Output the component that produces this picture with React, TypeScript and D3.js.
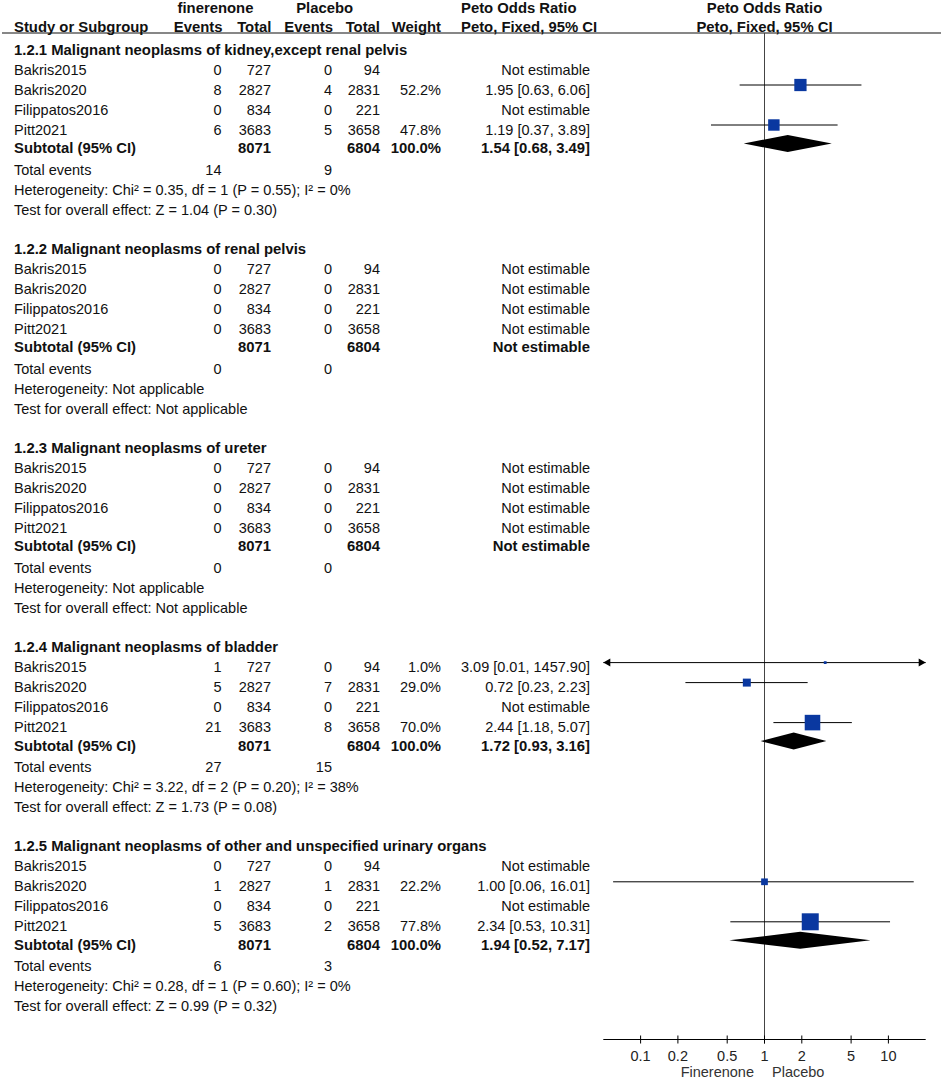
import React from "react";
import * as d3 from "d3";

// ---------- data ----------
const sectionTitles = [
  "1.2.1 Malignant neoplasms of kidney,except renal pelvis",
  "1.2.2 Malignant neoplasms of renal pelvis",
  "1.2.3 Malignant neoplasms of ureter",
  "1.2.4 Malignant neoplasms of bladder",
  "1.2.5 Malignant neoplasms of other and unspecified urinary organs",
];
const studyNames = ["Bakris2015", "Bakris2020", "Filippatos2016", "Pitt2021"];
const finTotals = [727, 2827, 834, 3683];
const plaTotals = [94, 2831, 221, 3658];
const finSubtotal = 8071;
const plaSubtotal = 6804;

const finEvents = [
  [0, 8, 0, 6],
  [0, 0, 0, 0],
  [0, 0, 0, 0],
  [1, 5, 0, 21],
  [0, 1, 0, 5],
];
const plaEvents = [
  [0, 4, 0, 5],
  [0, 0, 0, 0],
  [0, 0, 0, 0],
  [0, 7, 0, 8],
  [0, 1, 0, 2],
];
const weights: (number | null)[][] = [
  [null, 52.2, null, 47.8],
  [null, null, null, null],
  [null, null, null, null],
  [1.0, 29.0, null, 70.0],
  [null, 22.2, null, 77.8],
];
const orEst: (number | null)[][] = [
  [null, 1.95, null, 1.19],
  [null, null, null, null],
  [null, null, null, null],
  [3.09, 0.72, null, 2.44],
  [null, 1.0, null, 2.34],
];
const orLo: (number | null)[][] = [
  [null, 0.63, null, 0.37],
  [null, null, null, null],
  [null, null, null, null],
  [0.01, 0.23, null, 1.18],
  [null, 0.06, null, 0.53],
];
const orHi: (number | null)[][] = [
  [null, 6.06, null, 3.89],
  [null, null, null, null],
  [null, null, null, null],
  [1457.9, 2.23, null, 5.07],
  [null, 16.01, null, 10.31],
];
const subEst: (number | null)[] = [1.54, null, null, 1.72, 1.94];
const subLo: (number | null)[] = [0.68, null, null, 0.93, 0.52];
const subHi: (number | null)[] = [3.49, null, null, 3.16, 7.17];
const finTotalEvents = [14, 0, 0, 27, 6];
const plaTotalEvents = [9, 0, 0, 15, 3];
const hetTexts = [
  "Heterogeneity: Chi² = 0.35, df = 1 (P = 0.55); I² = 0%",
  "Heterogeneity: Not applicable",
  "Heterogeneity: Not applicable",
  "Heterogeneity: Chi² = 3.22, df = 2 (P = 0.20); I² = 38%",
  "Heterogeneity: Chi² = 0.28, df = 1 (P = 0.60); I² = 0%",
];
const testTexts = [
  "Test for overall effect: Z = 1.04 (P = 0.30)",
  "Test for overall effect: Not applicable",
  "Test for overall effect: Not applicable",
  "Test for overall effect: Z = 1.73 (P = 0.08)",
  "Test for overall effect: Z = 0.99 (P = 0.32)",
];
const tickValues = [0.1, 0.2, 0.5, 1, 2, 5, 10];
const tickLabels = ["0.1", "0.2", "0.5", "1", "2", "5", "10"];
const axisDomain = [0.05, 20];

// ---------- layout ----------
const W = 941;
const H = 1080;
const FONT = "'Liberation Sans', Arial, Helvetica, sans-serif";
const FS = 14.5;
const FSB = 14.85;
const TXT = "#111";
const BLUE = "#0a38a0";

const colStudy = 14;
const colFinEv = 221.5;
const colFinTot = 271;
const colPlaEv = 332;
const colPlaTot = 380;
const colWeight = 441;
const colCI = 590;

const sectionTop0 = 49.5;
const sectionStep = 199.2;
const rowOffsets = [20, 40, 60, 80];
const subOffset = 98.5;
const totOffset = 120;
const hetOffset = 140;
const testOffset = 160;
const markShift = -4.5;
const baseShift = 5;

const axisY = 1039.5;

const x = d3.scaleLog().domain(axisDomain).range([603.3, 925.7]);
const sq = d3.scaleLinear().domain([0, 100]).range([2.6, 21.1]);

const fmt = (v: number) => v.toFixed(2);
const ciText = (e: number | null, l: number | null, h: number | null) =>
  e == null ? "Not estimable" : `${fmt(e)} [${fmt(l as number)}, ${fmt(h as number)}]`;

function T(props: {
  x: number;
  y: number;
  anchor?: string;
  bold?: boolean;
  children: React.ReactNode;
  fill?: string;
}) {
  return (
    <text
      x={props.x}
      y={props.y}
      textAnchor={props.anchor || "start"}
      fontWeight={props.bold ? "bold" : "normal"}
      fill={props.fill || TXT}
      fontFamily={FONT}
      fontSize={props.bold ? FSB : FS}
    >
      {props.children}
    </text>
  );
}

function Arrow({ x0, y, dir }: { x0: number; y: number; dir: number }) {
  const len = 7;
  const hw = 4;
  const p = d3.path();
  p.moveTo(x0, y);
  p.lineTo(x0 - dir * len, y - hw);
  p.lineTo(x0 - dir * len, y + hw);
  p.closePath();
  return <path d={p.toString()} fill="#000" />;
}

function Section({ si }: { si: number }) {
  const top = sectionTop0 + si * sectionStep;
  const els: React.ReactNode[] = [];
  els.push(
    <T key="title" x={colStudy} y={top + baseShift} bold>
      {sectionTitles[si]}
    </T>
  );
  const [dMin, dMax] = axisDomain;
  studyNames.forEach((name, i) => {
    const cy = top + rowOffsets[i];
    const by = cy + baseShift;
    const w = weights[si][i];
    els.push(
      <g key={"r" + i}>
        <T x={colStudy} y={by}>{name}</T>
        <T x={colFinEv} y={by} anchor="end">{finEvents[si][i]}</T>
        <T x={colFinTot} y={by} anchor="end">{finTotals[i]}</T>
        <T x={colPlaEv} y={by} anchor="end">{plaEvents[si][i]}</T>
        <T x={colPlaTot} y={by} anchor="end">{plaTotals[i]}</T>
        {w != null && (
          <T x={colWeight} y={by} anchor="end">{w.toFixed(1) + "%"}</T>
        )}
        <T x={colCI} y={by} anchor="end">
          {ciText(orEst[si][i], orLo[si][i], orHi[si][i])}
        </T>
      </g>
    );
    const e = orEst[si][i];
    if (e != null && w != null) {
      const lo = orLo[si][i] as number;
      const hi = orHi[si][i] as number;
      const my = cy + markShift;
      const x0 = x(Math.max(lo, dMin));
      const x1 = x(Math.min(hi, dMax));
      const s = sq(w);
      els.push(
        <g key={"m" + i}>
          <line x1={x0} x2={x1} y1={my} y2={my} stroke="#000" strokeWidth={1} />
          {lo < dMin && <Arrow x0={x0} y={my} dir={-1} />}
          {hi > dMax && <Arrow x0={x1} y={my} dir={1} />}
          <rect x={x(e) - s / 2} y={my - s / 2} width={s} height={s} fill={BLUE} />
        </g>
      );
    }
  });
  const sy = top + subOffset;
  const sb = sy + baseShift;
  const se = subEst[si];
  els.push(
    <g key="sub">
      <T x={colStudy} y={sb} bold>Subtotal (95% CI)</T>
      <T x={colFinTot} y={sb} anchor="end" bold>{finSubtotal}</T>
      <T x={colPlaTot} y={sb} anchor="end" bold>{plaSubtotal}</T>
      {se != null && (
        <T x={colWeight} y={sb} anchor="end" bold>100.0%</T>
      )}
      <T x={colCI} y={sb} anchor="end" bold>
        {ciText(se, subLo[si], subHi[si])}
      </T>
    </g>
  );
  if (se != null) {
    const my = sy + markShift;
    const hh = 8.5;
    const p = d3.path();
    p.moveTo(x(subLo[si] as number), my);
    p.lineTo(x(se), my - hh);
    p.lineTo(x(subHi[si] as number), my);
    p.lineTo(x(se), my + hh);
    p.closePath();
    els.push(<path key="dia" d={p.toString()} fill="#000" />);
  }
  els.push(
    <g key="tot">
      <T x={colStudy} y={top + totOffset + baseShift}>Total events</T>
      <T x={colFinEv} y={top + totOffset + baseShift} anchor="end">{finTotalEvents[si]}</T>
      <T x={colPlaEv} y={top + totOffset + baseShift} anchor="end">{plaTotalEvents[si]}</T>
      <T x={colStudy} y={top + hetOffset + baseShift}>{hetTexts[si]}</T>
      <T x={colStudy} y={top + testOffset + baseShift}>{testTexts[si]}</T>
    </g>
  );
  return <g>{els}</g>;
}

export default function App() {
  const x1 = x(1);
  const [r0, r1] = x.range();
  return (
    <svg
      width={W}
      height={H}
      viewBox={`0 0 ${W} ${H}`}
      style={{ position: "absolute", left: 0, top: 0, background: "#fff" }}
    >
      <rect x={0} y={0} width={W} height={H} fill="#fff" />
      {/* header */}
      <T x={215.5} y={13.3} anchor="middle" bold>finerenone</T>
      <T x={324.7} y={13.3} anchor="middle" bold>Placebo</T>
      <T x={461} y={13.3} bold>Peto Odds Ratio</T>
      <T x={x1} y={13.3} anchor="middle" bold>Peto Odds Ratio</T>
      <T x={colStudy} y={32} bold>Study or Subgroup</T>
      <T x={colFinEv + 1} y={32} anchor="end" bold>Events</T>
      <T x={colFinTot + 0.5} y={32} anchor="end" bold>Total</T>
      <T x={colPlaEv + 1} y={32} anchor="end" bold>Events</T>
      <T x={colPlaTot} y={32} anchor="end" bold>Total</T>
      <T x={colWeight} y={32} anchor="end" bold>Weight</T>
      <T x={461} y={32} bold>Peto, Fixed, 95% CI</T>
      <T x={x1} y={32} anchor="middle" bold>Peto, Fixed, 95% CI</T>
      <line x1={2} x2={W} y1={33} y2={33} stroke="#111" strokeWidth={1.2} />

      {/* null line */}
      <line x1={x1} x2={x1} y1={33} y2={axisY + 4} stroke="#444" strokeWidth={1} />

      {sectionTitles.map((_, si) => (
        <Section key={si} si={si} />
      ))}

      {/* axis */}
      <line x1={r0} x2={r1} y1={axisY} y2={axisY} stroke="#000" strokeWidth={1} />
      {tickValues.map((t, i) => (
        <g key={t}>
          <line x1={x(t)} x2={x(t)} y1={axisY - 4} y2={axisY + 4} stroke="#000" strokeWidth={1} />
          <T x={x(t)} y={axisY + 21} anchor="middle" fill="#222">{tickLabels[i]}</T>
        </g>
      ))}
      <T x={x1 - 10.5} y={1077} anchor="end" fill="#333">Finerenone</T>
      <T x={x1 + 7.5} y={1077} fill="#333">Placebo</T>
    </svg>
  );
}
